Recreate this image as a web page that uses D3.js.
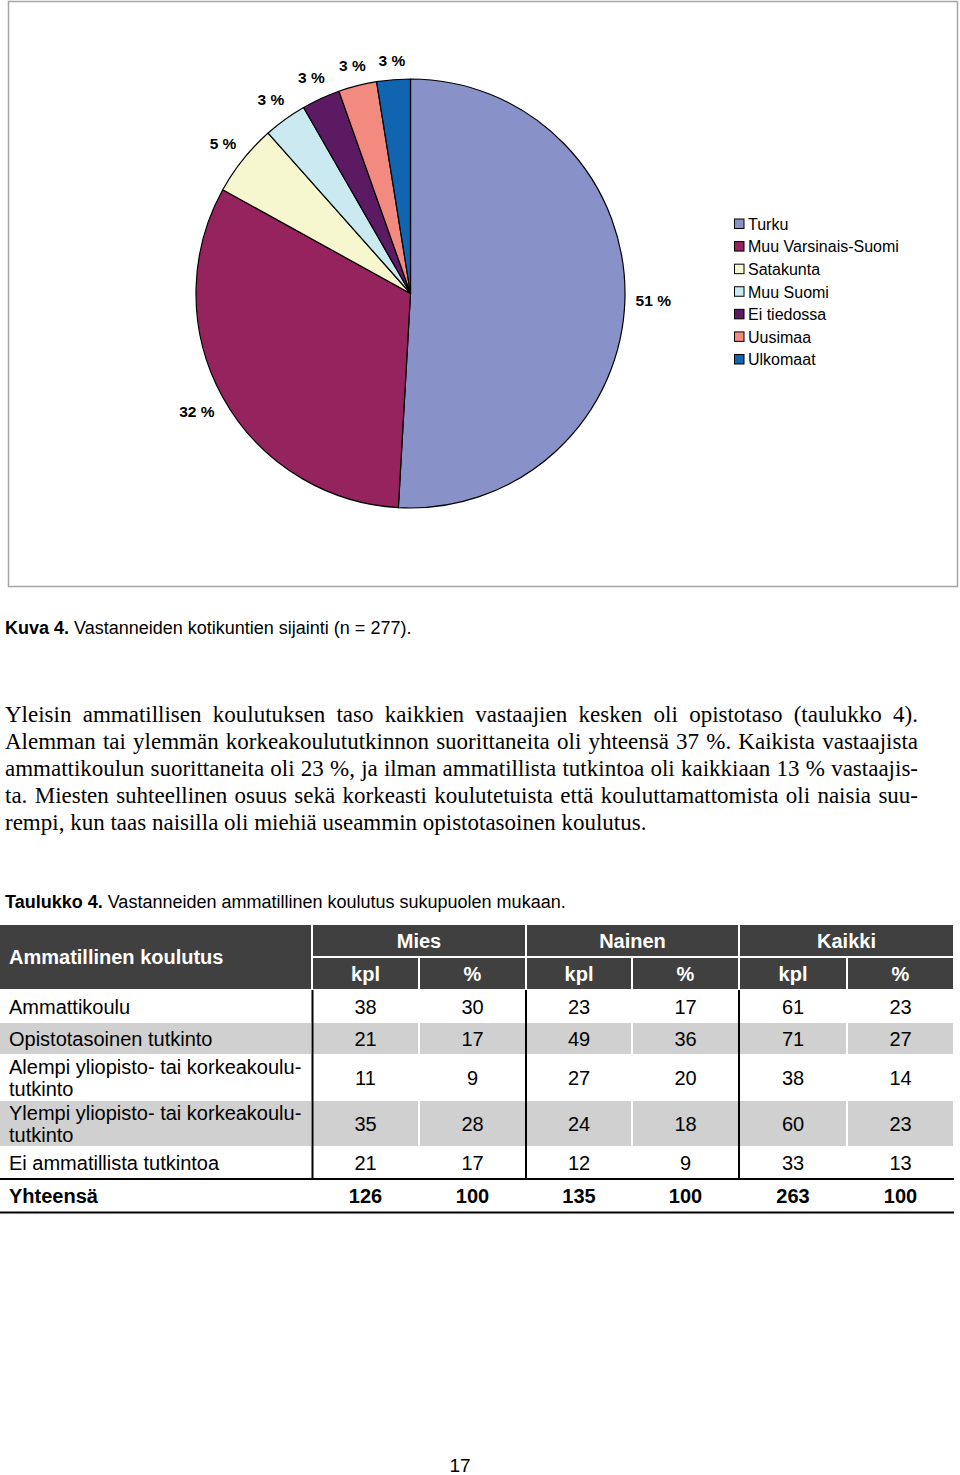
<!DOCTYPE html>
<html><head><meta charset="utf-8">
<script src="https://cdn.jsdelivr.net/npm/d3@7"></script>
<style>html,body{margin:0;padding:0;background:#fff}svg{display:block}</style>
</head><body>
<script>
// ---- pie data ----
const regions = ["Turku","Muu Varsinais-Suomi","Satakunta","Muu Suomi","Ei tiedossa","Uusimaa","Ulkomaat"];
const regionCounts = [141,89,15,9,8,8,7];
const regionLabels = ["51 %","32 %","5 %","3 %","3 %","3 %","3 %"];
const regionColors = ["#8891c8","#95235e","#f6f6cf","#cbe9f0","#5c1a63","#f28a80","#1064b0"];

// ---- table data ----
const eduRows = [["Ammattikoulu"],["Opistotasoinen tutkinto"],["Alempi yliopisto- tai korkeakoulu-","tutkinto"],["Ylempi yliopisto- tai korkeakoulu-","tutkinto"],["Ei ammatillista tutkintoa"]];
const miesKpl = [38,21,11,35,21];
const miesPct = [30,17,9,28,17];
const nainenKpl = [23,49,27,24,12];
const nainenPct = [17,36,20,18,9];
const kaikkiKpl = [61,71,38,60,33];
const kaikkiPct = [23,27,14,23,13];
const totalLabel = "Yhteensä";
const totals = [126,100,135,100,263,100];
const groups = ["Mies","Nainen","Kaikki"];
const subHeads = ["kpl","%"];

const paragraph = [
 "Yleisin ammatillisen koulutuksen taso kaikkien vastaajien kesken oli opistotaso (taulukko 4).",
 "Alemman tai ylemmän korkeakoulututkinnon suorittaneita oli yhteensä 37 %. Kaikista vastaajista",
 "ammattikoulun suorittaneita oli 23 %, ja ilman ammatillista tutkintoa oli kaikkiaan 13 % vastaajis-",
 "ta. Miesten suhteellinen osuus sekä korkeasti koulutetuista että kouluttamattomista oli naisia suu-",
 "rempi, kun taas naisilla oli miehiä useammin opistotasoinen koulutus."
];

const SANS = "'Liberation Sans', Arial, sans-serif";
const SERIF = "'Liberation Serif', 'Times New Roman', serif";

const svg = d3.select("body").append("svg").attr("width",960).attr("height",1475);

// chart frame
svg.append("rect").attr("x",8.5).attr("y",1.5).attr("width",949).attr("height",585)
  .attr("fill","#fff").attr("stroke","#a6a6a6").attr("stroke-width",1.5);

// pie
const cx = 410.5, cy = 293.5, R = 214.5;
const pie = d3.pie().sort(null).value(d=>d);
const arcs = pie(regionCounts);
const arc = d3.arc().innerRadius(0).outerRadius(R);
const g = svg.append("g").attr("transform",`translate(${cx},${cy})`);
g.selectAll("path").data(arcs).join("path")
  .attr("d",arc).attr("fill",(d,i)=>regionColors[i])
  .attr("stroke","#000").attr("stroke-width",1.2).attr("stroke-linejoin","round");
const labels = g.selectAll("text").data(arcs).join("text")
  .attr("text-anchor","middle").attr("dy","0.36em")
  .attr("font-family",SANS).attr("font-weight","bold").attr("font-size",15.5)
  .attr("fill","#000").text((d,i)=>regionLabels[i]);
// place label box at fixed gap outside the pie edge
labels.each(function(d){
  const a = (d.startAngle + d.endAngle)/2;
  const s = Math.sin(a), c = Math.cos(a);
  const w = this.getComputedTextLength();
  const r = 225 + Math.abs(s)*w/2 + Math.abs(c)*7.5;
  d3.select(this).attr("transform",`translate(${s*r},${-c*r})`);
});

// legend
const leg = svg.append("g").attr("transform","translate(734,224)");
const ly = d3.scalePoint().domain(regions).range([0,135.5]);
const li = leg.selectAll("g").data(regions).join("g").attr("transform",d=>`translate(0,${ly(d)})`);
li.append("rect").attr("x",0.5).attr("y",-5).attr("width",9.5).attr("height",9.5)
  .attr("fill",(d,i)=>regionColors[i]).attr("stroke","#000").attr("stroke-width",1);
li.append("text").attr("x",14).attr("y",0).attr("dy","0.36em")
  .attr("font-family",SANS).attr("font-size",16).text(d=>d);

// caption
const cap = svg.append("text").attr("x",5).attr("y",634).attr("font-family",SANS).attr("font-size",18);
cap.append("tspan").attr("font-weight","bold").text("Kuva 4.");
cap.append("tspan").text(" Vastanneiden kotikuntien sijainti (n = 277).");

// paragraph (justified)
const pX0 = 5, pX1 = 918, pY0 = 722, pLH = 27;
paragraph.forEach((line,li2)=>{
  const y = pY0 + li2*pLH;
  const words = line.split(" ");
  const t = svg.append("text").attr("y",y).attr("font-family",SERIF).attr("font-size",23).attr("fill","#000");
  const spans = words.map(w=>t.append("tspan").text(w));
  const widths = spans.map(s=>s.node().getComputedTextLength());
  const last = li2 === paragraph.length-1;
  const sum = d3.sum(widths);
  const space = 5.75;
  const gap = last ? space : (pX1-pX0-sum)/(words.length-1);
  let x = pX0;
  spans.forEach((s,i)=>{ s.attr("x",x); x += widths[i]+gap; });
});

// table title
const tt = svg.append("text").attr("x",5).attr("y",908).attr("font-family",SANS).attr("font-size",18);
tt.append("tspan").attr("font-weight","bold").text("Taulukko 4.");
tt.append("tspan").text(" Vastanneiden ammatillinen koulutus sukupuolen mukaan.");

// table layout
const colEdges = [0,312,419,526,632,739,847,954];
const DARK = "#404040", GRAY = "#d0d0d0";
const FS = 20;
const tbl = svg.append("g");
// header
tbl.append("rect").attr("x",0).attr("y",925).attr("width",311).attr("height",64).attr("fill",DARK);
tbl.append("text").attr("x",9).attr("y",957).attr("dy","0.36em").attr("font-family",SANS)
  .attr("font-weight","bold").attr("font-size",FS).attr("fill","#fff").text("Ammatillinen koulutus");
groups.forEach((gname,gi)=>{
  const x0 = colEdges[1+gi*2], x1 = colEdges[3+gi*2];
  tbl.append("rect").attr("x",x0+1).attr("y",925).attr("width",x1-x0-2).attr("height",31).attr("fill",DARK);
  tbl.append("text").attr("x",(x0+x1)/2).attr("y",941).attr("dy","0.36em").attr("text-anchor","middle")
    .attr("font-family",SANS).attr("font-weight","bold").attr("font-size",FS).attr("fill","#fff").text(gname);
  subHeads.forEach((sh,si)=>{
    const a = colEdges[1+gi*2+si], b = colEdges[2+gi*2+si];
    tbl.append("rect").attr("x",a+1).attr("y",958).attr("width",b-a-2).attr("height",31).attr("fill",DARK);
    tbl.append("text").attr("x",(a+b)/2).attr("y",974).attr("dy","0.36em").attr("text-anchor","middle")
      .attr("font-family",SANS).attr("font-weight","bold").attr("font-size",FS).attr("fill","#fff").text(sh);
  });
});

// body rows
const rowTops = [991,1023,1055,1101,1147];
const rowH = [31,31,45,45,31];
const cols = [miesKpl,miesPct,nainenKpl,nainenPct,kaikkiKpl,kaikkiPct];
eduRows.forEach((lab,ri)=>{
  const y0 = rowTops[ri], h = rowH[ri], mid = y0 + h/2;
  if (ri % 2 === 1) {
    for (let c=0;c<7;c++){
      const a = colEdges[c], b = colEdges[c+1];
      tbl.append("rect").attr("x",c===0?0:a+1).attr("y",y0).attr("width",c===0?311:b-a-2).attr("height",h).attr("fill",GRAY);
    }
  }
  lab.forEach((ln,k)=>{
    const yy = lab.length===1 ? mid : mid - 11 + k*22;
    tbl.append("text").attr("x",9).attr("y",yy).attr("dy","0.36em").attr("font-family",SANS)
      .attr("font-size",FS).text(ln);
  });
  cols.forEach((arr,ci)=>{
    const a = colEdges[ci+1], b = colEdges[ci+2];
    tbl.append("text").attr("x",(a+b)/2).attr("y",mid).attr("dy","0.36em").attr("text-anchor","middle")
      .attr("font-family",SANS).attr("font-size",FS).text(arr[ri]);
  });
});
// vertical lines
[312.5,526,739].forEach(x=>{
  tbl.append("line").attr("x1",x).attr("x2",x).attr("y1",990).attr("y2",1179).attr("stroke","#000").attr("stroke-width",2);
});
// total row
tbl.append("line").attr("x1",0).attr("x2",954).attr("y1",1179).attr("y2",1179).attr("stroke","#000").attr("stroke-width",2);
tbl.append("line").attr("x1",0).attr("x2",954).attr("y1",1212.5).attr("y2",1212.5).attr("stroke","#000").attr("stroke-width",2);
tbl.append("text").attr("x",9).attr("y",1196).attr("dy","0.36em").attr("font-family",SANS)
  .attr("font-weight","bold").attr("font-size",FS).text(totalLabel);
totals.forEach((v,ci)=>{
  const a = colEdges[ci+1], b = colEdges[ci+2];
  tbl.append("text").attr("x",(a+b)/2).attr("y",1196).attr("dy","0.36em").attr("text-anchor","middle")
    .attr("font-family",SANS).attr("font-weight","bold").attr("font-size",FS).text(v);
});

// page number
svg.append("text").attr("x",460).attr("y",1472).attr("text-anchor","middle").attr("font-family",SANS)
  .attr("font-size",19).text("17");
</script>
</body></html>
